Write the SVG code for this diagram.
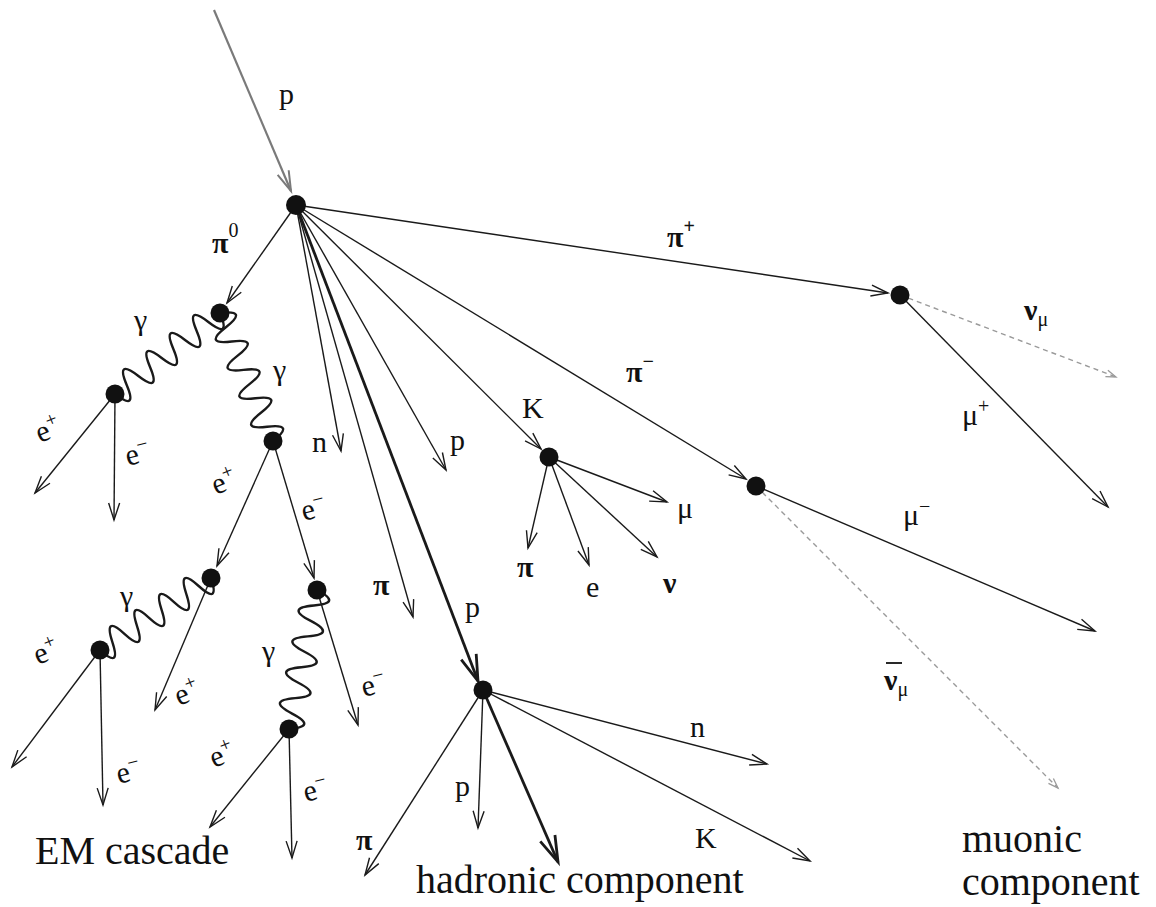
<svg xmlns="http://www.w3.org/2000/svg" width="1156" height="907" viewBox="0 0 1156 907">
<style>
.ln{stroke:#1a1a1a;stroke-width:1.4;fill:none}
.thick{stroke:#1a1a1a;stroke-width:2.8;fill:none}
.grey{stroke:#7a7a7a;stroke-width:2.2;fill:none}
.dash{stroke:#9a9a9a;stroke-width:1.4;fill:none;stroke-dasharray:5 4}
.wave{stroke:#1a1a1a;stroke-width:2.4;fill:none}
.dot{fill:#111}
.lb text{font-family:'Liberation Serif','DejaVu Serif','Times New Roman',serif;font-size:30px;fill:#111}
.lb .b{font-weight:bold}
.lb .big{font-size:40px}
.lb .sup{font-size:20px}
</style>
<defs>
<marker id="ah" markerUnits="userSpaceOnUse" orient="auto" refX="0" refY="0" markerWidth="30" markerHeight="20" overflow="visible">
<path d="M-17,-5.5 L0,0 L-17,5.5" fill="none" stroke="#1a1a1a" stroke-width="1.4"/>
</marker>
<marker id="ahT" markerUnits="userSpaceOnUse" orient="auto" refX="0" refY="0" markerWidth="40" markerHeight="24" overflow="visible">
<path d="M-26,-8 L0,0 L-26,8" fill="none" stroke="#1a1a1a" stroke-width="2.8"/>
</marker>
<marker id="ahG" markerUnits="userSpaceOnUse" orient="auto" refX="0" refY="0" markerWidth="30" markerHeight="20" overflow="visible">
<path d="M-20,-6 L0,0 L-20,6" fill="none" stroke="#7a7a7a" stroke-width="2"/>
</marker>
<marker id="ahD" markerUnits="userSpaceOnUse" orient="auto" refX="0" refY="0" markerWidth="20" markerHeight="14" overflow="visible">
<path d="M-10,-3.5 L0,0 L-10,3.5" fill="none" stroke="#9a9a9a" stroke-width="1.3"/>
</marker>
</defs>
<rect width="1156" height="907" fill="#fff"/>
<g id="connectors">
<line class="grey" x1="214" y1="10" x2="291" y2="191" marker-end="url(#ahG)"/>
<line class="ln" x1="296" y1="205" x2="227" y2="303" marker-end="url(#ah)"/>
<line class="ln" x1="296" y1="205" x2="888" y2="293" marker-end="url(#ah)"/>
<line class="ln" x1="296" y1="205" x2="746" y2="479" marker-end="url(#ah)"/>
<line class="ln" x1="296" y1="205" x2="541" y2="449" marker-end="url(#ah)"/>
<line class="ln" x1="296" y1="205" x2="446" y2="470" marker-end="url(#ah)"/>
<line class="ln" x1="296" y1="205" x2="341" y2="451" marker-end="url(#ah)"/>
<line class="ln" x1="296" y1="205" x2="413" y2="617" marker-end="url(#ah)"/>
<line class="thick" x1="296" y1="205" x2="478" y2="681" marker-end="url(#ahT)"/>
<path class="wave" transform="translate(220,313) rotate(142.35)" d="M0,0 q7.37,-28 14.73,0 t14.73,0 t14.73,0 t14.73,0 t14.73,0 t14.73,0 t14.73,0 t14.73,0 t14.73,0"/>
<path class="wave" transform="translate(220,313) rotate(67.5)" d="M0,0 q7.7,-28 15.39,0 t15.39,0 t15.39,0 t15.39,0 t15.39,0 t15.39,0 t15.39,0 t15.39,0 t15.39,0"/>
<path class="wave" transform="translate(211,578) rotate(147)" d="M0,0 q7.35,-28 14.7,0 t14.7,0 t14.7,0 t14.7,0 t14.7,0 t14.7,0 t14.7,0 t14.7,0 t14.7,0"/>
<path class="wave" transform="translate(317,590) rotate(101.4)" d="M0,0 q7.88,-28 15.76,0 t15.76,0 t15.76,0 t15.76,0 t15.76,0 t15.76,0 t15.76,0 t15.76,0 t15.76,0"/>
<line class="ln" x1="115" y1="394" x2="35" y2="493" marker-end="url(#ah)"/>
<line class="ln" x1="115" y1="394" x2="114" y2="520" marker-end="url(#ah)"/>
<line class="ln" x1="273" y1="441" x2="217" y2="566" marker-end="url(#ah)"/>
<line class="ln" x1="273" y1="441" x2="314" y2="578" marker-end="url(#ah)"/>
<line class="ln" x1="211" y1="578" x2="155" y2="710" marker-end="url(#ah)"/>
<line class="ln" x1="100" y1="650" x2="12" y2="767" marker-end="url(#ah)"/>
<line class="ln" x1="100" y1="650" x2="103" y2="805" marker-end="url(#ah)"/>
<line class="ln" x1="317" y1="590" x2="358" y2="725" marker-end="url(#ah)"/>
<line class="ln" x1="289" y1="729" x2="210" y2="827" marker-end="url(#ah)"/>
<line class="ln" x1="289" y1="729" x2="292" y2="858" marker-end="url(#ah)"/>
<line class="ln" x1="549" y1="457" x2="528" y2="548" marker-end="url(#ah)"/>
<line class="ln" x1="549" y1="457" x2="589" y2="565" marker-end="url(#ah)"/>
<line class="ln" x1="549" y1="457" x2="657" y2="557" marker-end="url(#ah)"/>
<line class="ln" x1="549" y1="457" x2="667" y2="502" marker-end="url(#ah)"/>
<line class="ln" x1="900" y1="295" x2="1108" y2="507" marker-end="url(#ah)"/>
<line class="dash" x1="900" y1="295" x2="1116" y2="377" marker-end="url(#ahD)"/>
<line class="ln" x1="756" y1="486" x2="1095" y2="631" marker-end="url(#ah)"/>
<line class="dash" x1="756" y1="486" x2="1058" y2="788" marker-end="url(#ahD)"/>
<line class="ln" x1="483" y1="690" x2="365" y2="875" marker-end="url(#ah)"/>
<line class="ln" x1="483" y1="690" x2="478" y2="828" marker-end="url(#ah)"/>
<line class="thick" x1="483" y1="690" x2="558" y2="862" marker-end="url(#ahT)"/>
<line class="ln" x1="483" y1="690" x2="767" y2="764" marker-end="url(#ah)"/>
<line class="ln" x1="483" y1="690" x2="810" y2="861" marker-end="url(#ah)"/>
</g>
<g id="v-primary"><circle class="dot" cx="296" cy="205" r="10"/></g>
<g id="v-pi0"><circle class="dot" cx="220" cy="313" r="9.5"/></g>
<g id="v-gamma1"><circle class="dot" cx="115" cy="394" r="9.5"/></g>
<g id="v-gamma2"><circle class="dot" cx="273" cy="441" r="9.5"/></g>
<g id="v-epos1"><circle class="dot" cx="211" cy="578" r="9.5"/></g>
<g id="v-eneg1"><circle class="dot" cx="317" cy="590" r="9.5"/></g>
<g id="v-gamma3"><circle class="dot" cx="100" cy="650" r="9.5"/></g>
<g id="v-gamma4"><circle class="dot" cx="289" cy="729" r="9.5"/></g>
<g id="v-kaon"><circle class="dot" cx="549" cy="457" r="9.5"/></g>
<g id="v-piplus"><circle class="dot" cx="900" cy="295" r="9.5"/></g>
<g id="v-piminus"><circle class="dot" cx="756" cy="486" r="9.5"/></g>
<g id="v-hadron"><circle class="dot" cx="483" cy="690" r="9.5"/></g>
<g id="labels" class="lb">
<text x="279" y="104">p</text>
<text x="212" y="253" class="b">π<tspan class="sup" dy="-16" font-weight="normal">0</tspan></text>
<text x="667" y="247" class="b">π<tspan class="sup" dy="-14">+</tspan></text>
<text x="626" y="382" class="b">π<tspan class="sup" dy="-14">−</tspan></text>
<text x="134" y="330">γ</text>
<text x="273" y="380">γ</text>
<text x="120" y="606">γ</text>
<text x="262" y="661">γ</text>
<text x="312" y="452">n</text>
<text x="450" y="450">p</text>
<text x="373" y="595" class="b">π</text>
<text x="465" y="617">p</text>
<text x="522" y="418">K</text>
<text x="517" y="577" class="b">π</text>
<text x="586" y="597">e</text>
<text x="663" y="593" class="b">ν</text>
<text x="677" y="518">μ</text>
<text x="1024" y="320" class="b">ν<tspan class="sup" dy="6" font-weight="normal">μ</tspan></text>
<text x="962" y="425">μ<tspan class="sup" dy="-12">+</tspan></text>
<text x="903" y="525">μ<tspan class="sup" dy="-12">−</tspan></text>
<line x1="886" y1="663" x2="902" y2="663" stroke="#111" stroke-width="1.8"/>
<text x="884" y="690" class="b">ν<tspan class="sup" dy="6" font-weight="normal">μ</tspan></text>
<text x="690" y="737">n</text>
<text x="455" y="796">p</text>
<text x="695" y="848">K</text>
<text x="356" y="850" class="b">π</text>
<text x="40" y="443" transform="rotate(-22 40 443)">e<tspan class="sup" dy="-11">+</tspan></text>
<text x="128" y="466" transform="rotate(-15 128 466)">e<tspan class="sup" dy="-11">−</tspan></text>
<text x="216" y="495" transform="rotate(-22 216 495)">e<tspan class="sup" dy="-11">+</tspan></text>
<text x="304" y="521" transform="rotate(-15 304 521)">e<tspan class="sup" dy="-11">−</tspan></text>
<text x="38" y="665" transform="rotate(-22 38 665)">e<tspan class="sup" dy="-11">+</tspan></text>
<text x="179" y="706" transform="rotate(-22 179 706)">e<tspan class="sup" dy="-11">+</tspan></text>
<text x="119" y="784" transform="rotate(-15 119 784)">e<tspan class="sup" dy="-11">−</tspan></text>
<text x="364" y="697" transform="rotate(-15 364 697)">e<tspan class="sup" dy="-11">−</tspan></text>
<text x="214" y="768" transform="rotate(-22 214 768)">e<tspan class="sup" dy="-11">+</tspan></text>
<text x="306" y="802" transform="rotate(-15 306 802)">e<tspan class="sup" dy="-11">−</tspan></text>
<text x="35" y="864" class="big">EM cascade</text>
<text x="416" y="893" class="big">hadronic component</text>
<text x="962" y="852" class="big">muonic</text>
<text x="962" y="895" class="big">component</text>
</g>
</svg>
